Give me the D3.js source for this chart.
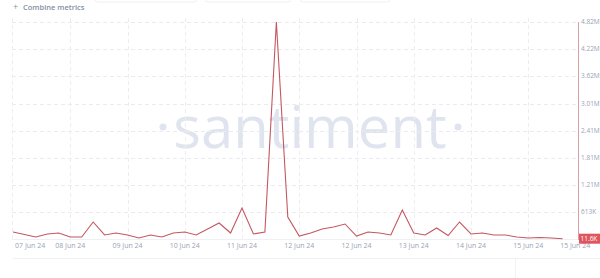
<!DOCTYPE html>
<html>
<head>
<meta charset="utf-8">
<script src="https://cdn.jsdelivr.net/npm/d3@7"></script>
<style>
  html, body { margin: 0; padding: 0; background: #fff; }
  svg { display: block; }
  text { font-family: "Open Sans", "Liberation Sans", sans-serif; }
</style>
</head>
<body>
<svg id="chart" width="600" height="278"></svg>
<script>
// ---- data ----
const values = [
  160e3, 105e3, 50e3, 116e3, 138e3, 50e3, 50e3, 382e3, 94e3, 138e3,
  94e3, 27e3, 94e3, 50e3, 138e3, 160e3, 94e3, 227e3, 360e3, 138e3,
  693e3, 116e3, 160e3, 4820e3, 493e3, 71e3, 138e3, 227e3, 271e3, 338e3,
  71e3, 160e3, 138e3, 94e3, 648e3, 138e3, 94e3, 249e3, 83e3, 382e3,
  116e3, 138e3, 94e3, 94e3, 50e3, 27e3, 38e3, 27e3, 11.6e3
];
const xTickIndex = [5, 10, 15, 20, 25, 30, 35, 40, 45];
const xTickLabels = ["08 Jun 24", "09 Jun 24", "10 Jun 24", "11 Jun 24", "12 Jun 24",
                     "12 Jun 24", "13 Jun 24", "14 Jun 24", "15 Jun 24"];
const xEdgeIndex = [1.5, 49.1];
const xEdgeLabels = ["07 Jun 24", "15 Jun 24"];
const yTickValues = [4.82e6, 4.22e6, 3.62e6, 3.01e6, 2.41e6, 1.81e6, 1.21e6, 613e3];
const yTickLabels = ["4.82M", "4.22M", "3.62M", "3.01M", "2.41M", "1.81M", "1.21M", "613K"];
const lastLabel = "11.6K";
const title = "Combine metrics";
const watermark = "santiment";

// ---- layout ----
const svg = d3.select("#chart");
const plotLeft = 12, plotRight = 578, plotTop = 22, plotBottom = 238.7;
const lineColor = "#c4575f";

const x = d3.scaleLinear().domain([0, values.length - 1]).range([13, 562.6]);
const y = d3.scaleLinear().domain([11.6e3, 4.82e6]).range([plotBottom, plotTop]);

// faint tab outlines at top (cut off)
const tabs = [[95, 197], [205, 291], [300, 390]];
svg.selectAll("rect.tab").data(tabs).enter().append("rect")
  .attr("x", d => d[0]).attr("y", -8).attr("width", d => d[1] - d[0]).attr("height", 10)
  .attr("rx", 3).attr("fill", "none").attr("stroke", "#eef0f4").attr("stroke-width", 1);

// title
svg.append("text").attr("x", 13).attr("y", 10).attr("font-size", 9).attr("fill", "#8a93a8").text("+");
svg.append("text").attr("x", 23).attr("y", 10).attr("font-size", 7.5).attr("font-weight", 600)
  .attr("fill", "#858ea3").text(title);

// watermark
const wm = svg.append("g").attr("fill", "#dfe4ef");
wm.append("text").attr("x", 310).attr("y", 148).attr("text-anchor", "middle")
  .attr("font-size", 58).attr("font-weight", 400).text(watermark);
wm.append("circle").attr("cx", 163).attr("cy", 127).attr("r", 3.5);
wm.append("circle").attr("cx", 458).attr("cy", 127).attr("r", 3.5);

// horizontal gridlines
svg.append("g").selectAll("line").data(yTickValues).enter().append("line")
  .attr("x1", plotLeft).attr("x2", plotRight)
  .attr("y1", d => Math.round(y(d)) + 0.5).attr("y2", d => Math.round(y(d)) + 0.5)
  .attr("stroke", "#e9ebf0").attr("stroke-dasharray", "4,3").attr("stroke-width", 1);

// vertical gridlines
svg.append("g").selectAll("line").data([0].concat(xTickIndex)).enter().append("line")
  .attr("x1", (d, i) => i === 0 ? plotLeft + 0.5 : Math.round(x(d)) + 0.5)
  .attr("x2", (d, i) => i === 0 ? plotLeft + 0.5 : Math.round(x(d)) + 0.5)
  .attr("y1", plotTop - 4).attr("y2", plotBottom)
  .attr("stroke", "#eceef2").attr("stroke-dasharray", "4,3").attr("stroke-width", 1);

// bottom baseline
svg.append("line").attr("x1", plotLeft).attr("x2", plotRight)
  .attr("y1", 239.5).attr("y2", 239.5).attr("stroke", "#eef0f3");

// lower faint panel line
svg.append("line").attr("x1", 13).attr("x2", 600).attr("y1", 258.5).attr("y2", 258.5).attr("stroke", "#eef0f3");
svg.append("line").attr("x1", 515.5).attr("x2", 515.5).attr("y1", 258).attr("y2", 278).attr("stroke", "#f1f2f5");

// x labels
const xl = svg.append("g").attr("font-size", 7).attr("fill", "#9aa3b5").attr("text-anchor", "middle");
xl.selectAll("text.t").data(xTickIndex).enter().append("text")
  .attr("x", d => x(d)).attr("y", 248).text((d, i) => xTickLabels[i]);
xl.selectAll("text.e").data(xEdgeIndex).enter().append("text")
  .attr("x", d => x(d)).attr("y", 248).text((d, i) => xEdgeLabels[i]);

// y labels
svg.append("g").attr("font-size", 6.5).attr("fill", "#9aa3b5")
  .selectAll("text").data(yTickValues).enter().append("text")
  .attr("x", 581).attr("y", d => y(d) + 2.3).text((d, i) => yTickLabels[i]);

// right axis line
svg.append("line").attr("x1", plotRight + 0.5).attr("x2", plotRight + 0.5)
  .attr("y1", plotTop).attr("y2", 240).attr("stroke", "#d9a0a4").attr("stroke-width", 1);

// data line
const line = d3.line().x((d, i) => x(i)).y(d => y(d));
svg.append("path").datum(values).attr("d", line)
  .attr("fill", "none").attr("stroke", lineColor).attr("stroke-width", 1.1)
  .attr("stroke-linejoin", "miter");

// last value badge
const lv = values[values.length - 1];
svg.append("rect").attr("x", 579).attr("y", y(lv) - 5).attr("width", 21).attr("height", 10)
  .attr("fill", "#e0555d");
svg.append("text").attr("x", 580.5).attr("y", y(lv) + 2.3).attr("font-size", 6.5).attr("fill", "#fff")
  .text(lastLabel);
</script>
</body>
</html>
